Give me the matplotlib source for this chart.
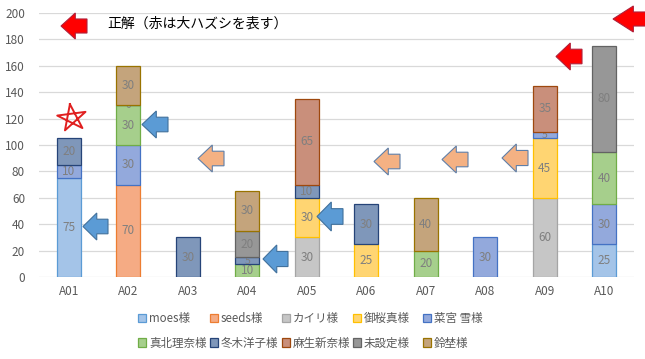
import matplotlib.pyplot as plt
import matplotlib.patches as mpatches
import numpy as np

plt.rcParams['font.family'] = ['Noto Sans CJK JP', 'DejaVu Sans']

cats = ['A01', 'A02', 'A03', 'A04', 'A05', 'A06', 'A07', 'A08', 'A09', 'A10']
names = ['moes様', 'seeds様', 'カイリ様', '御桜真様', '菜宮 雪様',
         '真北理奈様', '冬木洋子様', '麻生新奈様', '未設定様', '鈴埜様']
# None = no value for that question
moes     = [75, None, None, None, None, None, None, None, None, 25]
seeds    = [None, 70, None, None, None, None, None, None, None, None]
kairi    = [None, None, None, None, 30, None, None, None, 60, None]
misakura = [None, None, None, None, 30, 25, None, None, 45, None]
namiya   = [10, 30, None, None, None, None, None, 30, 5, 30]
makita   = [None, 30, None, 10, None, None, 20, None, None, 40]
fuyuki   = [20, 0, 30, 5, 10, 30, None, None, None, None]
aso      = [None, None, None, None, 65, None, None, None, 35, None]
misettei = [None, None, None, 20, None, None, None, None, None, 80]
suzuno   = [None, 30, None, 30, None, None, 40, None, None, None]
series = [moes, seeds, kairi, misakura, namiya, makita, fuyuki, aso, misettei, suzuno]

fills = ['#a4c4e8', '#f5ab84', '#c6c6c6', '#ffd572', '#93a9dc',
         '#a6cf8c', '#7f97ba', '#c98f7b', '#979797', '#c4a47c']
edges = ['#5b9bd5', '#ed7d31', '#a5a5a5', '#ffc000', '#4472c4',
         '#70ad47', '#264478', '#9e480e', '#636363', '#997300']

W, H = 645, 359
fig = plt.figure(figsize=(W / 100, H / 100), dpi=100)
ax = fig.add_axes([39 / W, 1 - 277 / H, 595 / W, 264 / H])

x = np.arange(len(cats))
bottom = np.zeros(len(cats))
handles = []
for i, s in enumerate(series):
    vals = np.array([0 if v is None else v for v in s], dtype=float)
    has = [v is not None for v in s]
    xs = x[has]
    b = ax.bar(xs, vals[has], 0.4, bottom=bottom[has], color=fills[i], edgecolor=edges[i],
               linewidth=0.9, label=names[i], zorder=3 + 2 * i)
    handles.append(b)
    for xi, v, bt, h in zip(x, vals, bottom, has):
        if h:
            # labels of thin segments get partly covered by the next segment, as in Excel
            ax.text(xi, bt + v / 2, f'{int(v)}', ha='center', va='center',
                    fontsize=8.5 if v >= 10 else 7.5, color='#7f7f7f', zorder=4 + 2 * i)
    bottom += vals

ax.set_xlim(-0.5, len(cats) - 0.5)
ax.set_ylim(0, 200)
ax.set_yticks(range(0, 201, 20))
ax.set_xticks(x)
ax.set_xticklabels(cats)
ax.grid(axis='y', color='#d9d9d9', linewidth=0.9, zorder=0)
ax.set_axisbelow(True)
for sp in ax.spines.values():
    sp.set_visible(False)
ax.tick_params(length=0, labelsize=8.5, colors='#595959', pad=6)
ax.tick_params(axis='y', pad=10)

# legend: 5 columns x 2 rows, filled row-wise
col_x = [138, 210, 282, 353, 423]
for c in range(5):
    leg = fig.legend([handles[c], handles[c + 5]], [names[c], names[c + 5]],
                     loc='upper left', bbox_to_anchor=(col_x[c] / W, 1 - 312 / H),
                     frameon=False, fontsize=8.3, labelcolor='#595959', handlelength=0.7,
                     handleheight=0.7, handletextpad=0.25, labelspacing=1.0,
                     borderpad=0, borderaxespad=0)

fig.text(107 / W, 1 - 24 / H, '正解（赤は大ハズシを表す）', fontsize=10, va='center', ha='left')


def arrow(x0, y0, x1, y1, fc, ec):
    # left-pointing block arrow in figure pixels
    w, h = x1 - x0, y1 - y0
    yc = (y0 + y1) / 2
    hx = x0 + 0.55 * w
    sh = 0.27 * h
    pts = [(x0, yc), (hx, y0), (hx, yc - sh), (x1, yc - sh), (x1, yc + sh),
           (hx, yc + sh), (hx, y1)]
    pts = [(px / W, 1 - py / H) for px, py in pts]
    fig.patches.append(mpatches.Polygon(pts, closed=True, fc=fc, ec=ec, lw=0.8,
                                        transform=fig.transFigure, zorder=50))


red, redge = '#ff0000', '#b0203a'
blue, bedge = '#5b9bd5', '#41719c'
orng, oedge = '#f4b183', '#5f7fa8'
arrow(61, 13, 87, 39, red, redge)
arrow(613, 6, 650, 32, red, redge)
arrow(556, 43, 582, 70, red, redge)
arrow(83, 213, 108, 240, blue, bedge)
arrow(142, 111, 168, 138, blue, bedge)
arrow(263, 245, 288, 273, blue, bedge)
arrow(317, 202, 343, 231, blue, bedge)
arrow(198, 145, 224, 172, orng, oedge)
arrow(374, 148, 400, 175, orng, oedge)
arrow(442, 146, 468, 173, orng, oedge)
arrow(502, 144, 528, 172, orng, oedge)

# hand drawn star near A01
ang = np.deg2rad(90 + np.arange(0, 6) * 144 + 8)
sx = 72 + 15 * np.cos(ang)
sy = 118 - 14 * np.sin(ang)
fig.lines.append(plt.Line2D(sx / W, 1 - sy / H, color='#e02020', lw=1.4,
                            transform=fig.transFigure, zorder=50))

fig.savefig('out.png', dpi=100)
